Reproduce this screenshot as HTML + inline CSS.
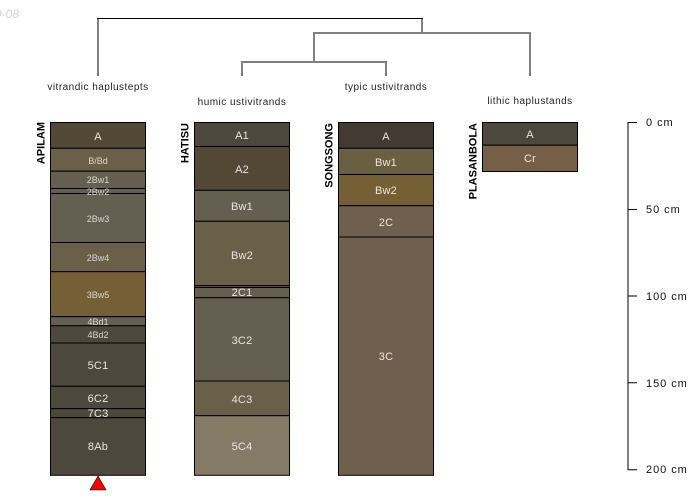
<!DOCTYPE html>
<html><head><meta charset="utf-8"><style>
html,body{margin:0;padding:0;background:#fff}
svg{display:block}
text{font-family:"Liberation Sans",sans-serif}
.h{fill:#e8e6e2;font-size:11px;text-anchor:middle;letter-spacing:.2px}
.s{fill:#d8d6d0;font-size:9px;text-anchor:middle}
.t{fill:#222;font-size:10px;text-anchor:middle;letter-spacing:.48px}
.n{fill:#000;font-size:11px;font-weight:bold;text-anchor:end}
.a{fill:#111;font-size:11px;letter-spacing:.95px}
.l{stroke:#808080;stroke-width:2;fill:none;shape-rendering:crispEdges}
.k{stroke:#000;stroke-width:1;fill:none}
</style></head><body>
<svg width="700" height="500" viewBox="0 0 700 500" xmlns="http://www.w3.org/2000/svg">
<rect width="700" height="500" fill="#fff"/>
<text x="19" y="18" text-anchor="end" style="font-size:12px;font-style:italic;fill:#d2d2d2">2019-08</text>
<!-- dendrogram -->
<g class="l">
<path d="M98 76V19"/>
<path d="M422 19V33"/>
<path d="M314 62V33H530V76"/>
<path d="M242 76V62H386V76"/>
</g>
<path class="k" d="M97 18.5H423"/>
<text class="t" x="98" y="90">vitrandic haplustepts</text>
<text class="t" x="242" y="105">humic ustivitrands</text>
<text class="t" x="386" y="90">typic ustivitrands</text>
<text class="t" x="530" y="104">lithic haplustands</text>
<!-- APILAM -->
<g stroke="#000" stroke-width="1">
<rect x="50.5" y="122.5" width="95" height="25.8" fill="#524835"/>
<rect x="50.5" y="148.3" width="95" height="22.9" fill="#6a5f49"/>
<rect x="50.5" y="171.2" width="95" height="17.3" fill="#655f52"/>
<rect x="50.5" y="188.5" width="95" height="5" fill="#655f52"/>
<rect x="50.5" y="193.5" width="95" height="49" fill="#655f52"/>
<rect x="50.5" y="242.5" width="95" height="29.2" fill="#6a5f49"/>
<rect x="50.5" y="271.7" width="95" height="45" fill="#755f35"/>
<rect x="50.5" y="316.7" width="95" height="9" fill="#655f52"/>
<rect x="50.5" y="325.7" width="95" height="17.3" fill="#4d483c"/>
<rect x="50.5" y="343" width="95" height="43.3" fill="#4d483c"/>
<rect x="50.5" y="386.3" width="95" height="22.4" fill="#4d483c"/>
<rect x="50.5" y="408.7" width="95" height="9" fill="#4d483c"/>
<rect x="50.5" y="417.7" width="95" height="57.6" fill="#4d483c"/>
</g>
<text class="n" transform="translate(44.5,122) rotate(-90)">APILAM</text>
<text class="h" x="98" y="140">A</text>
<text class="s" x="98" y="164">B/Bd</text>
<text class="s" x="98" y="183">2Bw1</text>
<text class="s" x="98" y="195">2Bw2</text>
<text class="s" x="98" y="222">2Bw3</text>
<text class="s" x="98" y="261">2Bw4</text>
<text class="s" x="98" y="298">3Bw5</text>
<text class="s" x="98" y="325">4Bd1</text>
<text class="s" x="98" y="338">4Bd2</text>
<text class="h" x="98" y="369">5C1</text>
<text class="h" x="98" y="402">6C2</text>
<text class="h" x="98" y="417">7C3</text>
<text class="h" x="98" y="450">8Ab</text>
<path d="M98 476L90 490H106Z" fill="#f00" stroke="#000" stroke-width=".6"/>
<!-- HATISU -->
<g stroke="#000" stroke-width="1">
<rect x="194.5" y="122.5" width="95" height="24" fill="#4d483c"/>
<rect x="194.5" y="146.5" width="95" height="43.8" fill="#524835"/>
<rect x="194.5" y="190.3" width="95" height="31" fill="#655f52"/>
<rect x="194.5" y="221.3" width="95" height="64.4" fill="#6a5f49"/>
<rect x="194.5" y="285.7" width="95" height="1.8" fill="#6a5f49"/>
<rect x="194.5" y="287.5" width="95" height="10.2" fill="#655f52"/>
<rect x="194.5" y="297.7" width="95" height="83.3" fill="#655f52"/>
<rect x="194.5" y="381" width="95" height="34.7" fill="#6a5f49"/>
<rect x="194.5" y="415.7" width="95" height="59.6" fill="#857a66"/>
</g>
<text class="n" transform="translate(188.5,123) rotate(-90)">HATISU</text>
<text class="h" x="242" y="139">A1</text>
<text class="h" x="242" y="173">A2</text>
<text class="h" x="242" y="210">Bw1</text>
<text class="h" x="242" y="259">Bw2</text>
<text class="h" x="242" y="296">2C1</text>
<text class="h" x="242" y="344">3C2</text>
<text class="h" x="242" y="403">4C3</text>
<text class="h" x="242" y="450">5C4</text>
<!-- SONGSONG -->
<g stroke="#000" stroke-width="1">
<rect x="338.5" y="122.5" width="95" height="25.8" fill="#433a33"/>
<rect x="338.5" y="148.3" width="95" height="26.2" fill="#6a5f41"/>
<rect x="338.5" y="174.5" width="95" height="31.2" fill="#755f35"/>
<rect x="338.5" y="205.7" width="95" height="31.3" fill="#6f5f4e"/>
<rect x="338.5" y="237" width="95" height="238.3" fill="#6f5f4e"/>
</g>
<text class="n" transform="translate(332.5,123) rotate(-90)">SONGSONG</text>
<text class="h" x="386" y="140">A</text>
<text class="h" x="386" y="166">Bw1</text>
<text class="h" x="386" y="194">Bw2</text>
<text class="h" x="386" y="226">2C</text>
<text class="h" x="386" y="360">3C</text>
<!-- PLASANBOLA -->
<g stroke="#000" stroke-width="1">
<rect x="482.5" y="122.5" width="95" height="22.7" fill="#4d483c"/>
<rect x="482.5" y="145.2" width="95" height="26.3" fill="#755f47"/>
</g>
<text class="n" transform="translate(476.5,123) rotate(-90)">PLASANBOLA</text>
<text class="h" x="530" y="138">A</text>
<text class="h" x="530" y="162">Cr</text>
<!-- axis -->
<path class="l" d="M628 122V470"/>
<path class="k" d="M628 122.5H637M628 209.5H637"/>
<path d="M628 296H637M628 382.7H637M628 469.7H637" fill="none" stroke="#000" stroke-width="1"/>
<text class="a" x="646" y="126">0 cm</text>
<text class="a" x="646" y="213">50 cm</text>
<text class="a" x="646" y="300">100 cm</text>
<text class="a" x="646" y="387">150 cm</text>
<text class="a" x="646" y="473">200 cm</text>
</svg>
</body></html>
